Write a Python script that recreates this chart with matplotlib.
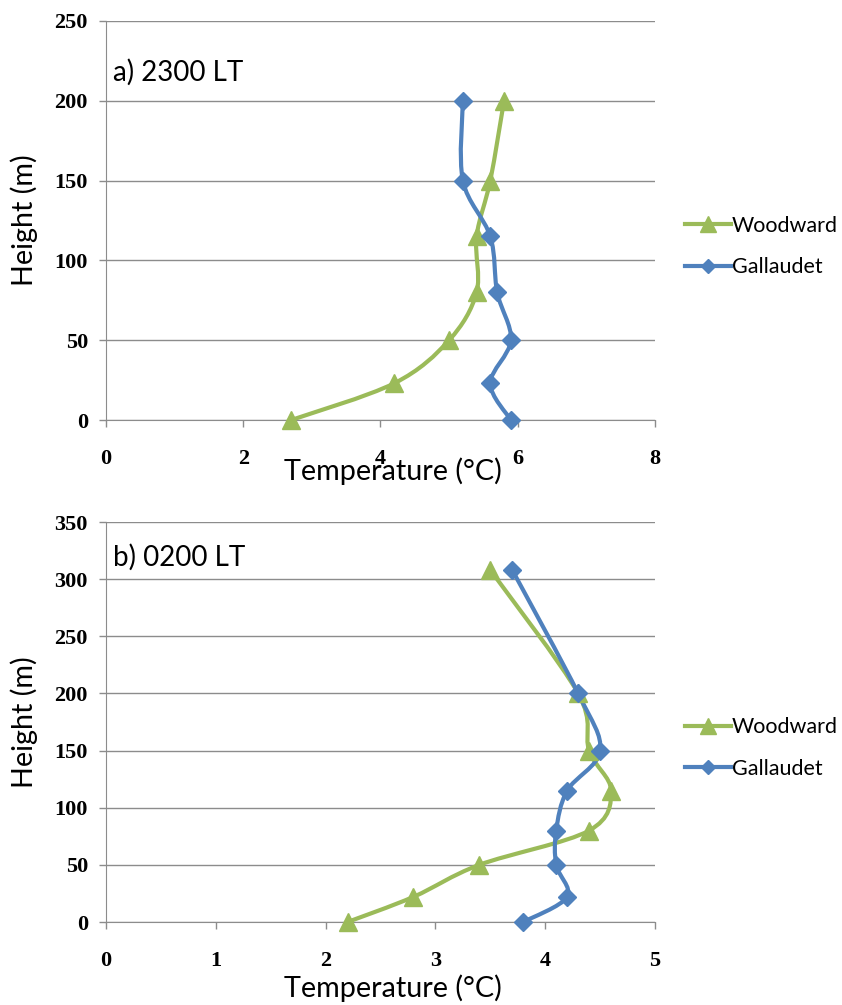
import matplotlib
matplotlib.use("Agg")
import matplotlib.pyplot as plt
from matplotlib.path import Path
from matplotlib.patches import PathPatch
from matplotlib.lines import Line2D
import numpy as np

# Panel a) 2300 LT
heights_a = [0, 23, 50, 80, 115, 150, 200]
woodward_a = [2.7, 4.2, 5.0, 5.4, 5.4, 5.6, 5.8]
gallaudet_a = [5.9, 5.6, 5.9, 5.7, 5.6, 5.2, 5.2]

# Panel b) 0200 LT
heights_b = [0, 22, 50, 80, 115, 150, 200, 308]
woodward_b = [2.2, 2.8, 3.4, 4.4, 4.6, 4.4, 4.3, 3.5]
gallaudet_b = [3.8, 4.2, 4.1, 4.1, 4.2, 4.5, 4.3, 3.7]

series_names = ["Woodward", "Gallaudet"]
GREEN = "#9BBB59"
BLUE = "#4F81BD"
FONT = "Lato"
TICKFONT = "Liberation Serif"

plt.rcParams["font.family"] = [FONT, "DejaVu Sans"]

fig = plt.figure(figsize=(8.42, 10.05), dpi=100)
W, H = 842, 1005


def ax_rect(l, t, r, b):
    return [l / W, 1 - b / H, (r - l) / W, (b - t) / H]


def smooth_path(x, y):
    pts = np.column_stack([x, y]).astype(float)
    n = len(pts)
    verts = [pts[0]]
    codes = [Path.MOVETO]
    for i in range(n - 1):
        p0 = pts[i - 1] if i > 0 else pts[i]
        p1 = pts[i]
        p2 = pts[i + 1]
        p3 = pts[i + 2] if i + 2 < n else pts[i + 1]
        c1 = p1 + (p2 - p0) / 6.0
        c2 = p2 - (p3 - p1) / 6.0
        verts += [c1, c2, p2]
        codes += [Path.CURVE4] * 3
    return Path(verts, codes)


def draw_panel(ax, heights, wood, gall, xmax, xstep, ymax, title, title_y,
               xlabel_y):
    ax.set_xlim(0, xmax)
    ax.set_ylim(0, ymax)
    ax.set_xticks(np.arange(0, xmax + 0.01, xstep))
    ax.set_yticks(np.arange(0, ymax + 1, 50))
    ax.grid(axis="y", color="#8c8c8c", linewidth=1.0)
    ax.set_axisbelow(True)
    for s in ["top", "right"]:
        ax.spines[s].set_visible(False)
    ax.spines["left"].set_color("#8c8c8c")
    ax.spines["bottom"].set_color("#8c8c8c")
    ax.tick_params(axis="both", colors="#8c8c8c", length=5, width=1,
                   labelcolor="black")
    ax.tick_params(axis="x", pad=16)
    ax.tick_params(axis="y", pad=8)
    for lab in ax.get_xticklabels() + ax.get_yticklabels():
        lab.set_fontweight("bold")
        lab.set_fontfamily(TICKFONT)
        lab.set_fontsize(16)
    for xs, col, mk, ms in [(wood, GREEN, "^", 13), (gall, BLUE, "D", 8.7)]:
        patch = PathPatch(smooth_path(xs, heights), facecolor="none",
                          edgecolor=col, linewidth=3, zorder=3,
                          transform=ax.transData)
        ax.add_patch(patch)
        ax.plot(xs, heights, linestyle="none", marker=mk, markersize=ms,
                color=col, zorder=4, clip_on=False)
    ax.text(0.012, title_y, title, transform=ax.transAxes,
            fontsize=20, va="center", ha="left")
    ax.set_xlabel("Temperature (°C)", fontsize=20.7, va="top")
    ax.xaxis.set_label_coords(0.523, xlabel_y)
    ax.set_ylabel("Height (m)", fontsize=20.7)
    ax.yaxis.set_label_coords(-0.123, 0.5)
    handles = [Line2D([], [], color=GREEN, lw=3, marker="^", markersize=12),
               Line2D([], [], color=BLUE, lw=3, marker="D", markersize=7)]
    ax.legend(handles, series_names, loc="center left",
              bbox_to_anchor=(1.02, 0.435), frameon=False, fontsize=15.5,
              handlelength=2.1, handletextpad=0.05, labelspacing=1.0)


ax1 = fig.add_axes(ax_rect(106, 21, 655, 420))
draw_panel(ax1, heights_a, woodward_a, gallaudet_a, 8, 2, 250, "a) 2300 LT",
           0.872, -0.093)

ax2 = fig.add_axes(ax_rect(106, 522, 655, 922))
draw_panel(ax2, heights_b, woodward_b, gallaudet_b, 5, 1, 350, "b) 0200 LT",
           0.912, -0.13)

fig.savefig("out.png", dpi=100)
